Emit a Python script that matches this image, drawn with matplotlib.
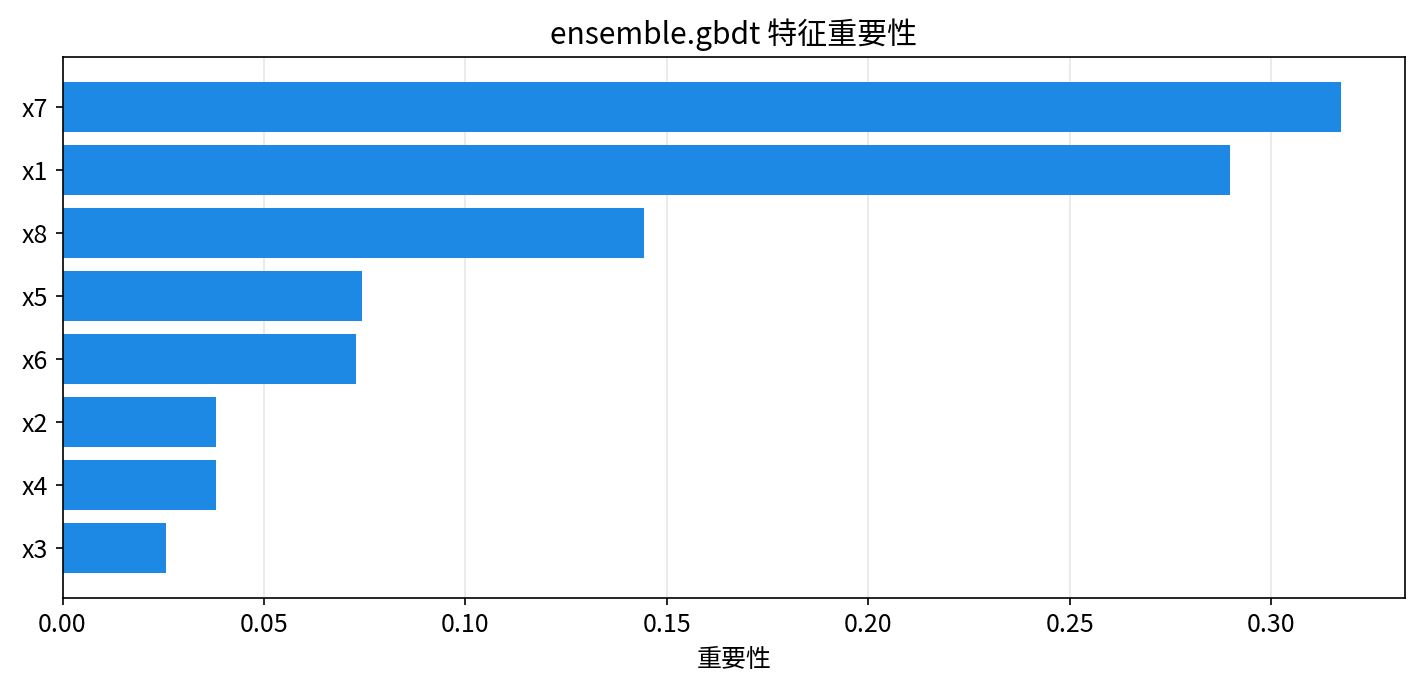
import matplotlib
matplotlib.use("Agg")
import matplotlib.pyplot as plt

plt.rcParams['font.family'] = ['Noto Sans CJK SC', 'DejaVu Sans']
plt.rcParams['font.size'] = 12

# 特征重要性 (从上到下)
features = ["x7", "x1", "x8", "x5", "x6", "x2", "x4", "x3"]
importance = [0.3174, 0.2898, 0.1443, 0.0744, 0.0729, 0.0381, 0.0381, 0.0256]

fig, ax = plt.subplots(figsize=(14.21 / 1.5, 6.95 / 1.5), dpi=150)
ax.barh(features[::-1], importance[::-1], color="#1E88E5")
ax.set_title("ensemble.gbdt 特征重要性", fontsize=14.4)
ax.set_xlabel("重要性")
ax.grid(axis="x", alpha=0.3)
ax.set_axisbelow(True)
fig.subplots_adjust(left=0.044, right=0.989, top=0.918, bottom=0.14)
fig.savefig("out.png", dpi=150)
